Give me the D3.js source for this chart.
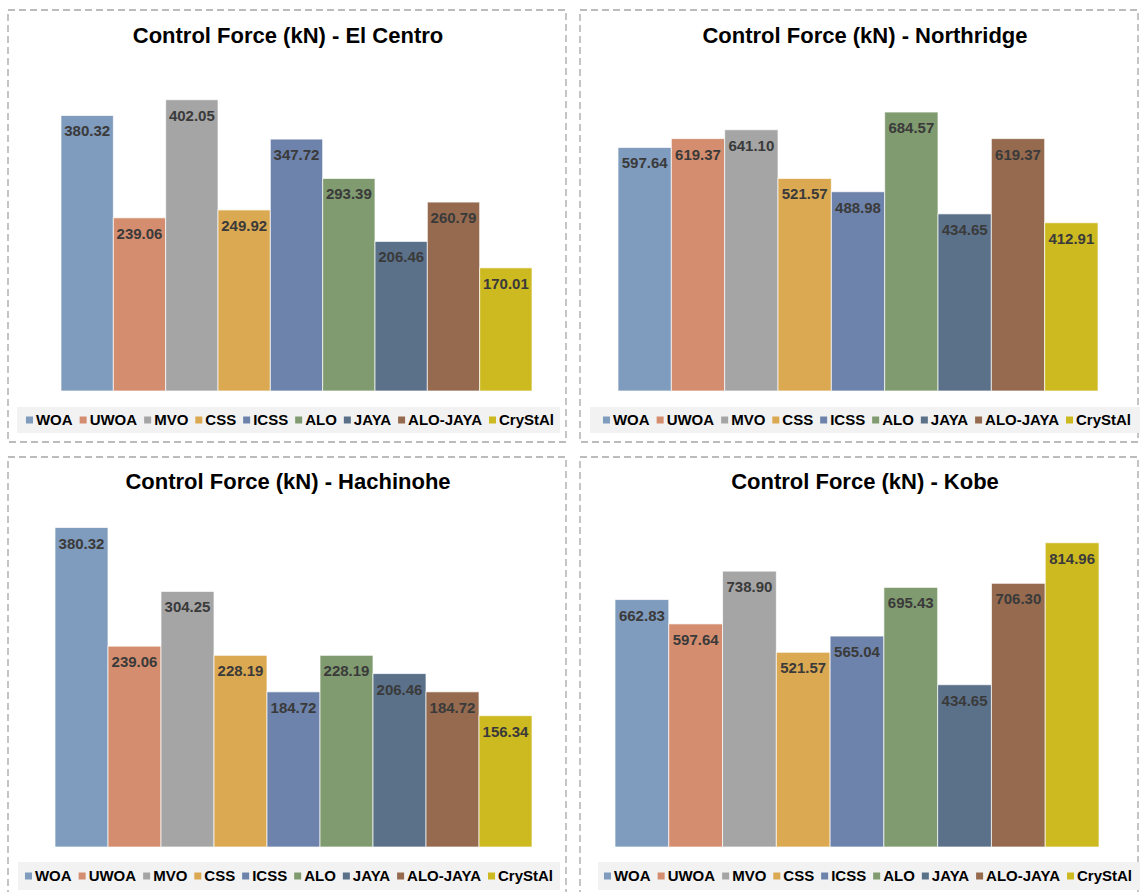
<!DOCTYPE html>
<html>
<head>
<meta charset="utf-8">
<script src="https://cdn.jsdelivr.net/npm/d3@7"></script>
<style>
  html, body { margin: 0; padding: 0; background: #ffffff; }
  svg { display: block; font-family: "Liberation Sans", Arial, sans-serif; }
</style>
</head>
<body>
<svg id="chart" width="1140" height="892"></svg>
<script>
// Algorithms compared in every panel
const algorithms = ["WOA", "UWOA", "MVO", "CSS", "ICSS", "ALO", "JAYA", "ALO-JAYA", "CryStAl"];
const algorithmColors = ["#7f9bbd", "#d48e6f", "#a5a5a5", "#daa952", "#6e83ab", "#809b70", "#5b718a", "#956a4f", "#cdb920"];

// Peak control force (kN) per earthquake record
const elCentro   = [380.32, 239.06, 402.05, 249.92, 347.72, 293.39, 206.46, 260.79, 170.01];
const northridge = [597.64, 619.37, 641.10, 521.57, 488.98, 684.57, 434.65, 619.37, 412.91];
const hachinohe  = [380.32, 239.06, 304.25, 228.19, 184.72, 228.19, 206.46, 184.72, 156.34];
const kobe       = [662.83, 597.64, 738.90, 521.57, 565.04, 695.43, 434.65, 706.30, 814.96];

const titles = [
  "Control Force (kN) - El Centro",
  "Control Force (kN) - Northridge",
  "Control Force (kN) - Hachinohe",
  "Control Force (kN) - Kobe"
];
const axisMax = [450, 800, 400, 900];

// Panel geometry (frame, plot area, title and legend placement)
const panels = [
  { values: elCentro,   title: titles[0], max: axisMax[0],
    frame: [8, 10, 566, 442], x: [61, 532], y: [391, 65], titleX: 288, titleY: 43,
    legendBox: [17, 407, 560, 433], legendCx: 290, legendY: 420 },
  { values: northridge, title: titles[1], max: axisMax[1],
    frame: [580, 10, 1138, 442], x: [618, 1098], y: [391, 65], titleX: 865, titleY: 43,
    legendBox: [590, 407, 1140, 433], legendCx: 867, legendY: 420 },
  { values: hachinohe,  title: titles[2], max: axisMax[2],
    frame: [8, 457, 566, 900], x: [55, 532], y: [847, 511], titleX: 288, titleY: 489,
    legendBox: [18, 862, 560, 890], legendCx: 289, legendY: 876 },
  { values: kobe,       title: titles[3], max: axisMax[3],
    frame: [580, 457, 1138, 900], x: [615, 1099], y: [847, 511], titleX: 865, titleY: 489,
    legendBox: [598, 862, 1140, 890], legendCx: 868, legendY: 876 }
];

const svg = d3.select("#chart");
const color = d3.scaleOrdinal().domain(algorithms).range(algorithmColors);

panels.forEach(p => {
  const g = svg.append("g");

  // dashed panel frame
  g.append("rect")
    .attr("x", p.frame[0]).attr("y", p.frame[1])
    .attr("width", p.frame[2] - p.frame[0]).attr("height", p.frame[3] - p.frame[1])
    .attr("fill", "none")
    .attr("stroke", "#a6a6a6")
    .attr("stroke-width", 1.3)
    .attr("stroke-dasharray", "7,4");

  // title
  g.append("text")
    .attr("x", p.titleX).attr("y", p.titleY)
    .attr("text-anchor", "middle")
    .attr("font-size", 22).attr("font-weight", "bold")
    .attr("fill", "#000")
    .text(p.title);

  const x = d3.scaleBand().domain(algorithms).range(p.x).padding(0);
  const y = d3.scaleLinear().domain([0, p.max]).range(p.y);

  const data = algorithms.map((a, i) => ({ name: a, value: p.values[i] }));

  // bars
  g.selectAll("rect.bar").data(data).enter().append("rect")
    .attr("class", "bar")
    .attr("x", d => x(d.name))
    .attr("y", d => y(d.value))
    .attr("width", x.bandwidth())
    .attr("height", d => y(0) - y(d.value))
    .attr("fill", d => color(d.name))
    .attr("stroke", "#ffffff")
    .attr("stroke-opacity", 0.7)
    .attr("stroke-width", 1);

  // value labels inside the top of each bar
  g.selectAll("text.val").data(data).enter().append("text")
    .attr("class", "val")
    .attr("x", d => x(d.name) + x.bandwidth() / 2)
    .attr("y", d => y(d.value) + 21)
    .attr("text-anchor", "middle")
    .attr("font-size", 15).attr("font-weight", "bold")
    .attr("fill", "#3a3a3a")
    .text(d => d.value.toFixed(2));

  // legend background
  g.append("rect")
    .attr("x", p.legendBox[0]).attr("y", p.legendBox[1])
    .attr("width", p.legendBox[2] - p.legendBox[0])
    .attr("height", p.legendBox[3] - p.legendBox[1])
    .attr("fill", "#f2f2f2");

  // legend entries, laid out from measured text widths and centred
  const lg = g.append("g");
  const items = lg.selectAll("g.item").data(algorithms).enter().append("g").attr("class", "item");
  items.append("rect")
    .attr("width", 7).attr("height", 7)
    .attr("y", -3.5)
    .attr("fill", d => color(d));
  items.append("text")
    .attr("x", 10)
    .attr("dy", "0.36em")
    .attr("font-size", 15).attr("font-weight", "bold")
    .attr("fill", "#000")
    .text(d => d);
  const gap = 7;
  let cursor = 0;
  const offsets = [];
  items.each(function() {
    const w = 10 + d3.select(this).select("text").node().getComputedTextLength();
    offsets.push(cursor);
    cursor += w + gap;
  });
  const total = cursor - gap;
  const start = p.legendCx - total / 2;
  items.attr("transform", (d, i) => `translate(${start + offsets[i]},${p.legendY})`);
});
</script>
</body>
</html>
